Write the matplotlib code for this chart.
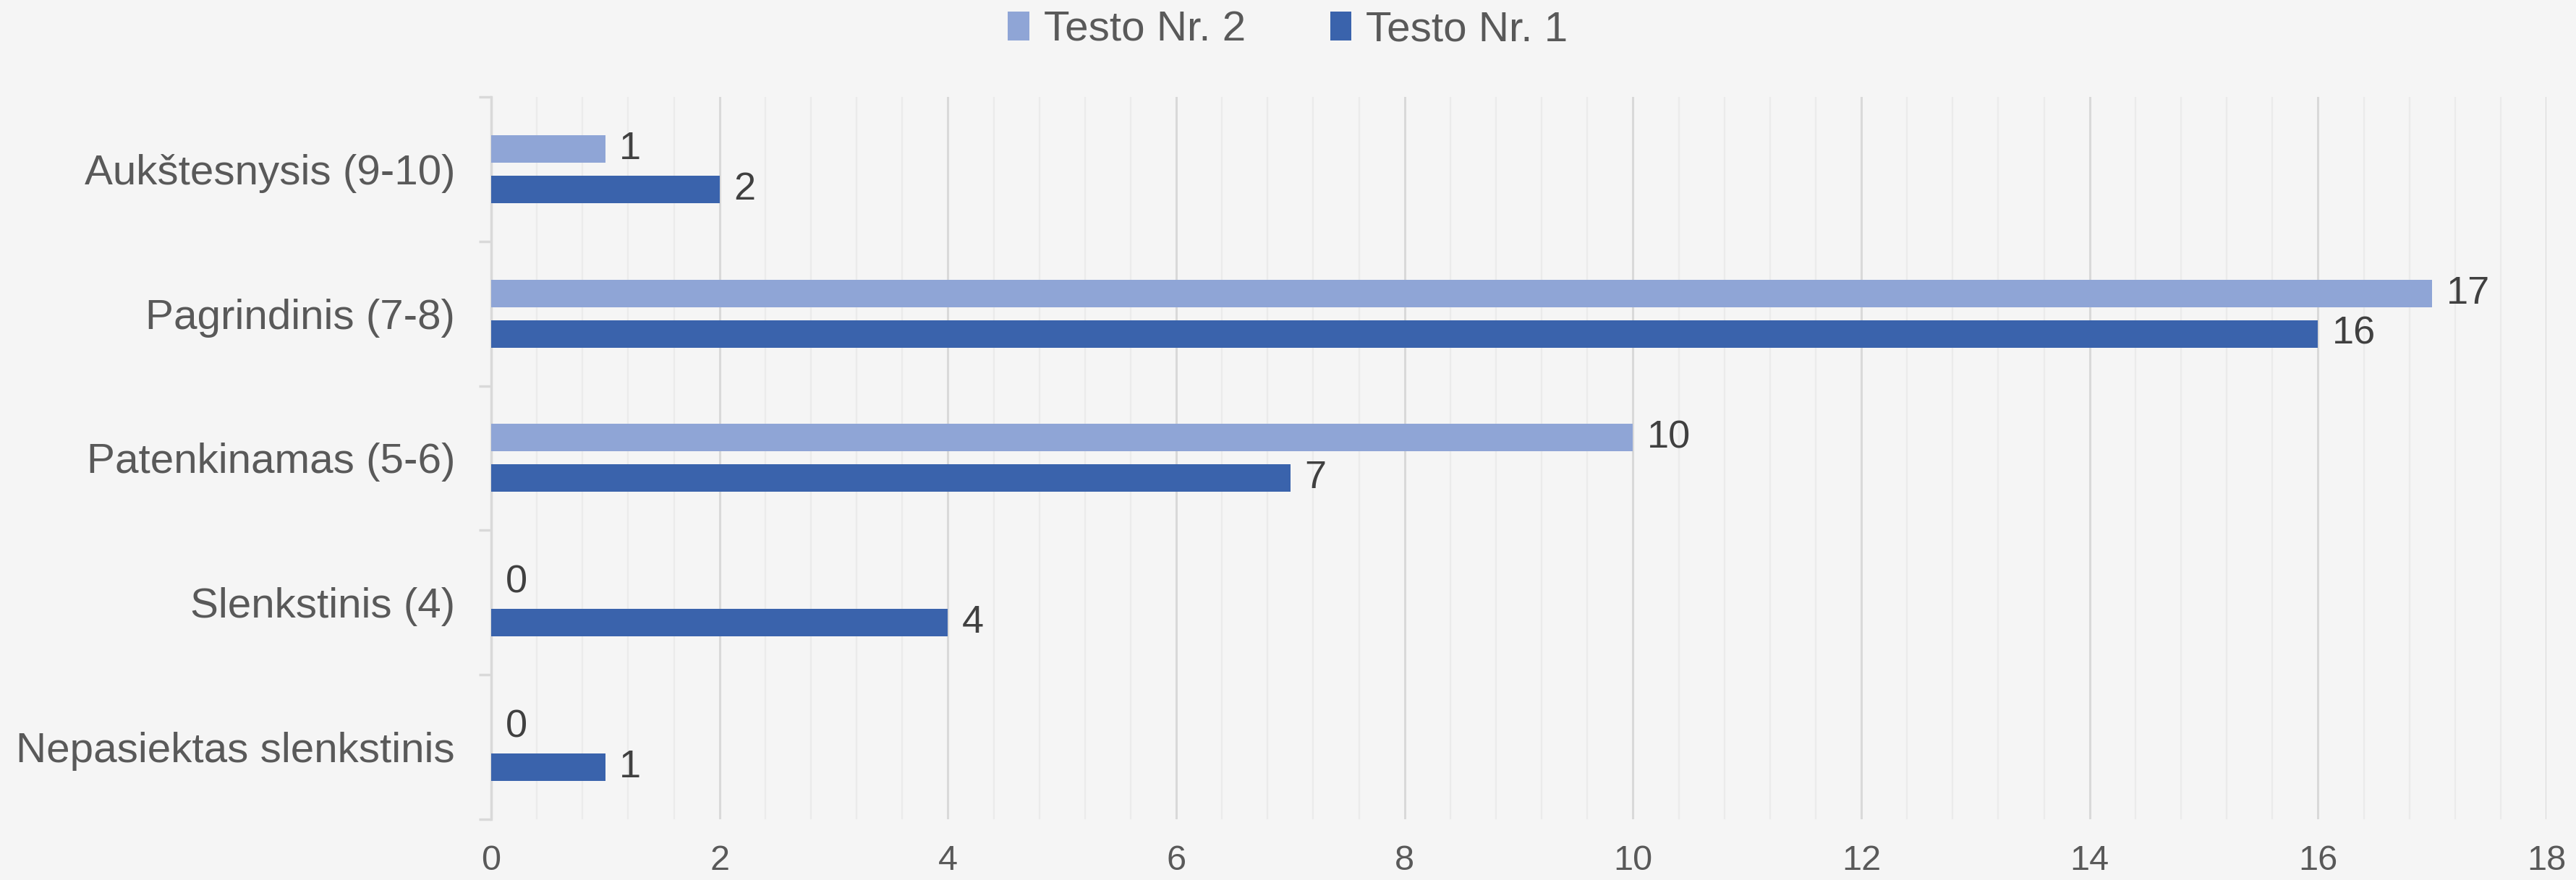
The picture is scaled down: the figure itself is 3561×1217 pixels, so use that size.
import matplotlib
matplotlib.use("Agg")
import matplotlib.pyplot as plt
import numpy as np

categories = ["Aukštesnysis (9-10)", "Pagrindinis (7-8)", "Patenkinamas (5-6)",
              "Slenkstinis (4)", "Nepasiektas slenkstinis"]
test2 = [1, 17, 10, 0, 0]
test1 = [2, 16, 7, 4, 1]
series_names = ["Testo Nr. 2", "Testo Nr. 1"]
xticks = [0, 2, 4, 6, 8, 10, 12, 14, 16, 18]

plt.rcParams['font.family'] = ['Liberation Sans', 'DejaVu Sans']
bg = "#F5F5F5"
c_light = "#8FA5D6"
c_dark = "#3A63AC"

fig = plt.figure(figsize=(35.61, 12.17), dpi=100, facecolor=bg)
ax = fig.add_axes([0.1907, 0.069, 0.7978, 0.821], facecolor=bg)

y = np.arange(len(categories))
h = 0.19
off = 0.14
b2 = ax.barh(y - off, test2, height=h, color=c_light, label=series_names[0], zorder=3)
b1 = ax.barh(y + off, test1, height=h, color=c_dark, label=series_names[1], zorder=3)

for bars, vals in ((b2, test2), (b1, test1)):
    for bar, v in zip(bars, vals):
        ax.annotate(str(v), (v, bar.get_y() + bar.get_height() / 2),
                    xytext=(14, 0), textcoords="offset points",
                    ha="left", va="center", fontsize=39, color="#404040")

ax.set_xlim(0, 18)
ax.set_ylim(len(categories) - 0.5, -0.5)
ax.set_xticks(xticks)
ax.set_xticks(np.arange(0, 18.01, 0.4), minor=True)
ax.set_yticks(y)
ax.set_yticklabels(categories)
ax.set_yticks(np.arange(-0.5, len(categories), 1.0), minor=True)

ax.grid(axis="x", which="major", color="#D9D9D9", linewidth=2.2, zorder=0)
ax.grid(axis="x", which="minor", color="#EBEBEB", linewidth=1.6, zorder=0)

ax.tick_params(axis="x", which="both", length=0, labelsize=35, labelcolor="#595959", pad=25)
ax.tick_params(axis="y", which="major", length=0, labelsize=42, labelcolor="#595959", pad=36)
ax.tick_params(axis="y", which="minor", length=12, width=2.5, color="#D9D9D9", direction="out")

for s in ("top", "right", "bottom"):
    ax.spines[s].set_visible(False)
ax.spines["left"].set_color("#D9D9D9")
ax.spines["left"].set_linewidth(2.5)

fig.legend(handles=[b2, b1], labels=series_names, loc="center", bbox_to_anchor=(0.5, 0.966),
           ncol=2, frameon=False, fontsize=42, labelcolor="#595959",
           handlelength=0.5, handleheight=0.7, handletextpad=0.35, columnspacing=2.0)

fig.savefig("out.png", dpi=100, facecolor=bg)
